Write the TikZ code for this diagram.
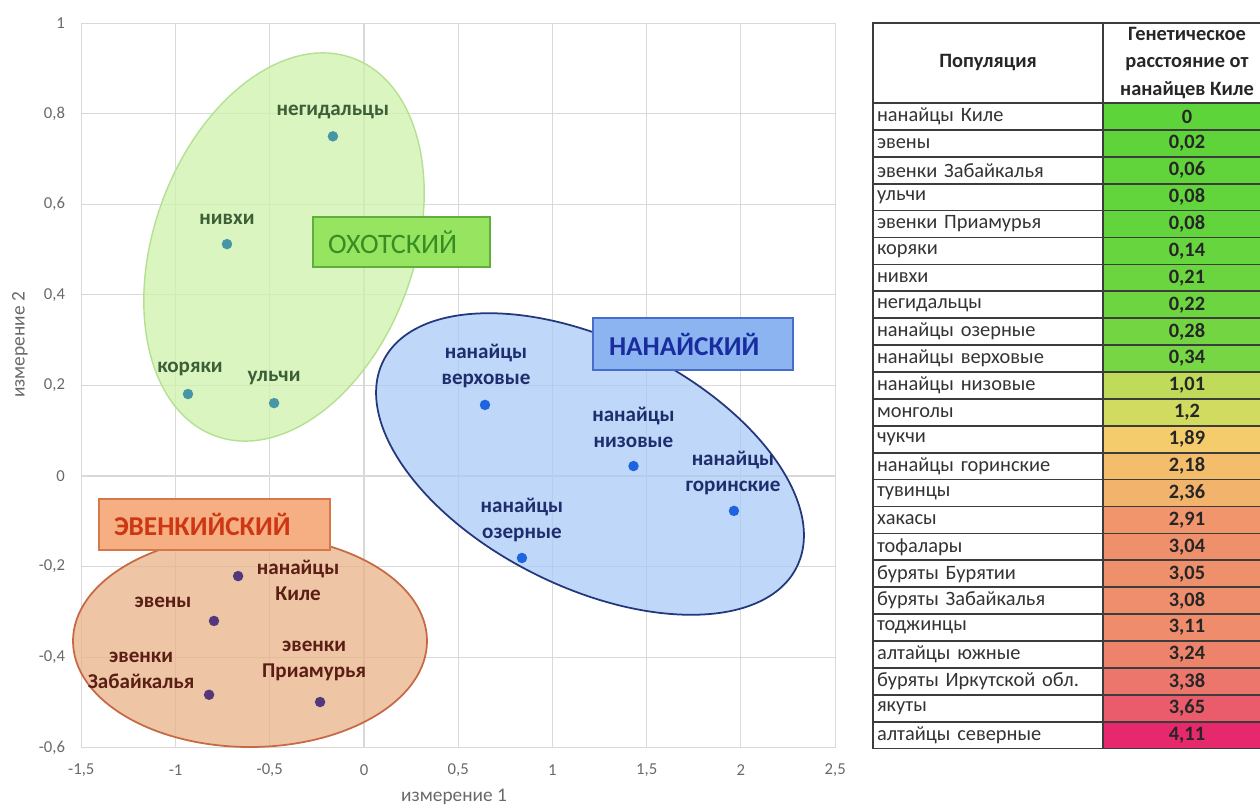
\documentclass[tikz,border=0pt]{standalone}
\usepackage{fontspec}
\setmainfont{Carlito}
\usepackage{tikz}
\usetikzlibrary{calc}
\definecolor{gridgray}{RGB}{217,217,217}
\definecolor{tickgray}{RGB}{105,105,105}
\definecolor{tabline}{RGB}{60,60,60}
\definecolor{okhfill}{RGB}{205,242,170}
\definecolor{okhline}{RGB}{180,225,145}
\definecolor{nanfill}{RGB}{170,202,245}
\definecolor{nanline}{RGB}{35,55,125}
\definecolor{evefill}{RGB}{232,178,135}
\definecolor{eveline}{RGB}{200,105,70}
\definecolor{okhdotc}{RGB}{70,150,165}
\definecolor{nandotc}{RGB}{30,100,225}
\definecolor{evedotc}{RGB}{85,55,125}
\definecolor{okhtext}{RGB}{60,95,55}
\definecolor{nantext}{RGB}{30,45,110}
\definecolor{evetext}{RGB}{90,30,20}
\definecolor{cgreen}{RGB}{92,212,58}
\definecolor{cyellow}{RGB}{246,222,108}
\definecolor{cred}{RGB}{230,40,108}

\begin{document}
\begin{tikzpicture}[x=0.02cm,y=-0.02cm,
  gridline/.style={draw=gridgray,line width=0.6pt},
  ticklbl/.style={text=tickgray,font=\fontsize{9.5}{11}\selectfont,inner sep=0pt},
  axlbl/.style={text=tickgray,font=\fontsize{11}{13}\selectfont,inner sep=0pt},
  popdot/.style={circle,inner sep=0pt,minimum size=0.21cm},
  poplbl/.style={font=\fontsize{12}{14.8}\selectfont\bfseries,align=center,inner sep=0pt},
  regbox/.style={line width=1pt,inner xsep=0.3cm,align=left,font=\fontsize{15.5}{18}\selectfont\bfseries},
  namecell/.style={draw=tabline,line width=1pt,minimum height=0.538cm,text width=4.44cm,inner xsep=0.08cm,inner ysep=0pt,align=left,text=black!80,font=\fontsize{11.6}{13}\selectfont},
  valcell/.style={draw=tabline,line width=1pt,minimum height=0.538cm,minimum width=3.36cm,inner sep=0pt,text=black!85,font=\fontsize{11.6}{13}\selectfont\bfseries},
  hdrcell/.style={draw=tabline,line width=1pt,minimum height=1.6cm,inner sep=0pt,align=center,text=black!85,font=\fontsize{11.6}{15.4}\selectfont\bfseries}]
\useasboundingbox (0,0) rectangle (1260,808);
%\draw[step=50,lightgray,very thin] (0,0) grid (1260,808);
\begin{scope}[shift={(364,476)},x=3.77cm,y=9.06cm]
\foreach \gx in {-1.5,-1,-0.5,0,0.5,1,1.5,2,2.5} \draw[gridline] (\gx,-0.6) -- (\gx,1);
\foreach \gy in {-0.6,-0.4,-0.2,0,0.2,0.4,0.6,0.8,1} \draw[gridline] (-1.5,\gy) -- (2.5,\gy);
\foreach \gx/\gt [count=\k] in {-1.5/{-1,5},-1/-1,-0.5/{-0,5},0/0,0.5/{0,5},1/1,1.5/{1,5},2/2,2.5/{2,5}}
  \node[ticklbl,yshift=-0.44cm] (xtick\k) at (\gx,-0.6) {\gt};
\foreach \gy/\gt [count=\k] in {-0.6/{-0,6},-0.4/{-0,4},-0.2/{-0,2},0/0,0.2/{0,2},0.4/{0,4},0.6/{0,6},0.8/{0,8},1/1}
  \node[ticklbl,anchor=east,xshift=-0.32cm] (ytick\k) at (-1.5,\gy) {\gt};
\end{scope}
\node[axlbl] (xtitle) at (454,797) {измерение 1};
\node[axlbl,rotate=90] (ytitle) at (20,345) {измерение 2};

% clusters
\fill[okhfill,fill opacity=0.75,rotate around={70:(284,247)}] (284,247) ellipse [x radius=201,y radius=130];
\draw[okhline,line width=0.8pt,rotate around={70:(284,247)}] (284,247) ellipse [x radius=201,y radius=130];
\fill[nanfill,fill opacity=0.75,rotate around={-26.5:(590,464)}] (590,464) ellipse [x radius=231,y radius=123];
\draw[nanline,line width=1pt,rotate around={-26.5:(590,464)}] (590,464) ellipse [x radius=231,y radius=123];
\fill[evefill,fill opacity=0.75] (250,641) ellipse [x radius=177,y radius=106];
\draw[eveline,line width=1pt] (250,641) ellipse [x radius=177,y radius=106];

\node[regbox,draw={rgb,255:red,95;green,175;blue,60},fill={rgb,255:red,150;green,228;blue,95},text={rgb,255:red,55;green,140;blue,35},
  font=\fontsize{16}{18}\selectfont,text width=2.94cm,minimum height=1cm] (okhbox) at (401.5,242) {ОХОТСКИЙ};
\node[regbox,draw={rgb,255:red,70;green,110;blue,200},fill={rgb,255:red,140;green,180;blue,240},text={rgb,255:red,25;green,45;blue,160},
  text width=3.36cm,inner xsep=0.32cm,minimum height=1.04cm] (nanbox) at (693,344) {НАНАЙСКИЙ};
\node[regbox,draw={rgb,255:red,215;green,120;blue,75},fill={rgb,255:red,245;green,175;blue,130},text={rgb,255:red,205;green,55;blue,20},
  text width=4.02cm,minimum height=1.02cm] (evebox) at (214.5,524.5) {ЭВЕНКИЙСКИЙ};

\begin{scope}[shift={(364,476)},x=3.77cm,y=9.06cm]
\node[popdot,fill=okhdotc] (negid) at (-0.165,0.75) {};
\node[popdot,fill=okhdotc] (nivkh) at (-0.727,0.512) {};
\node[popdot,fill=okhdotc] (koryak) at (-0.934,0.181) {};
\node[popdot,fill=okhdotc] (ulch) at (-0.477,0.161) {};
\node[popdot,fill=nandotc] (verkh) at (0.642,0.157) {};
\node[popdot,fill=nandotc] (nizov) at (1.43,0.022) {};
\node[popdot,fill=nandotc] (gorin) at (1.963,-0.077) {};
\node[popdot,fill=nandotc] (ozer) at (0.838,-0.181) {};
\node[popdot,fill=evedotc] (kile) at (-0.668,-0.221) {};
\node[popdot,fill=evedotc] (even) at (-0.796,-0.320) {};
\node[popdot,fill=evedotc] (zabai) at (-0.822,-0.483) {};
\node[popdot,fill=evedotc] (priam) at (-0.233,-0.499) {};
\end{scope}

\node[poplbl,text=okhtext] (negidl) at ($(negid)+(0,-24)$) {негидальцы};
\node[poplbl,text=okhtext] (nivkhl) at ($(nivkh)+(0,-25)$) {нивхи};
\node[poplbl,text=okhtext] (koryakl) at ($(koryak)+(2,-25)$) {коряки};
\node[poplbl,text=okhtext] (ulchl) at ($(ulch)+(0,-25)$) {ульчи};
\node[poplbl,text=nantext] (verkhl) at ($(verkh)+(1,-39)$) {нанайцы\\верховые};
\node[poplbl,text=nantext] (nizovl) at ($(nizov)+(0,-39)$) {нанайцы\\низовые};
\node[poplbl,text=nantext] (gorinl) at ($(gorin)+(-1,-38)$) {нанайцы\\горинские};
\node[poplbl,text=nantext] (ozerl) at ($(ozer)+(0,-38)$) {нанайцы\\озерные};
\node[poplbl,text=evetext] (kilel) at ($(kile)+(60,4)$) {нанайцы\\Киле};
\node[poplbl,text=evetext] (evenl) at ($(even)+(-51,-19)$) {эвены};
\node[poplbl,text=evetext] (zabail) at ($(zabai)+(-68,-24)$) {эвенки\\Забайкалья};
\node[poplbl,text=evetext] (priaml) at ($(priam)+(-6,-41)$) {эвенки\\Приамурья};

% table
\node[hdrcell,minimum width=4.6cm] (hpop) at (988,63) {Популяция};
\node[hdrcell,minimum width=3.36cm] (hdist) at (1187,63) {Генетическое\\расстояние от\\нанайцев Киле};
\foreach \pname/\pval/\pcol [count=\r] in {
  нанайцы Киле/0/cgreen, эвены/{0,02}/cgreen!99!cyellow, эвенки Забайкалья/{0,06}/cgreen!97!cyellow,
  ульчи/{0,08}/cgreen!96!cyellow, эвенки Приамурья/{0,08}/cgreen!96!cyellow, коряки/{0,14}/cgreen!93!cyellow,
  нивхи/{0,21}/cgreen!90!cyellow, негидальцы/{0,22}/cgreen!89!cyellow, нанайцы озерные/{0,28}/cgreen!86!cyellow,
  нанайцы верховые/{0,34}/cgreen!83!cyellow, нанайцы низовые/{1,01}/cgreen!35!cyellow, монголы/{1,2}/cgreen!25!cyellow,
  чукчи/{1,89}/cred!10!cyellow, нанайцы горинские/{2,18}/cred!18!cyellow, тувинцы/{2,36}/cred!23!cyellow,
  хакасы/{2,91}/cred!40!cyellow, тофалары/{3,04}/cred!43!cyellow, буряты Бурятии/{3,05}/cred!43!cyellow,
  буряты Забайкалья/{3,08}/cred!44!cyellow, тоджинцы/{3,11}/cred!45!cyellow, алтайцы южные/{3,24}/cred!50!cyellow,
  буряты Иркутской обл./{3,38}/cred!57!cyellow, якуты/{3,65}/cred!72!cyellow, алтайцы северные/{4,11}/cred}
{
  \node[namecell] (name\r) at (988,{103+26.9*(\r-0.5)}) {\pname};
  \node[valcell,fill=\pcol] (val\r) at (1187,{103+26.9*(\r-0.5)}) {\pval};
}
\end{tikzpicture}
\end{document}
